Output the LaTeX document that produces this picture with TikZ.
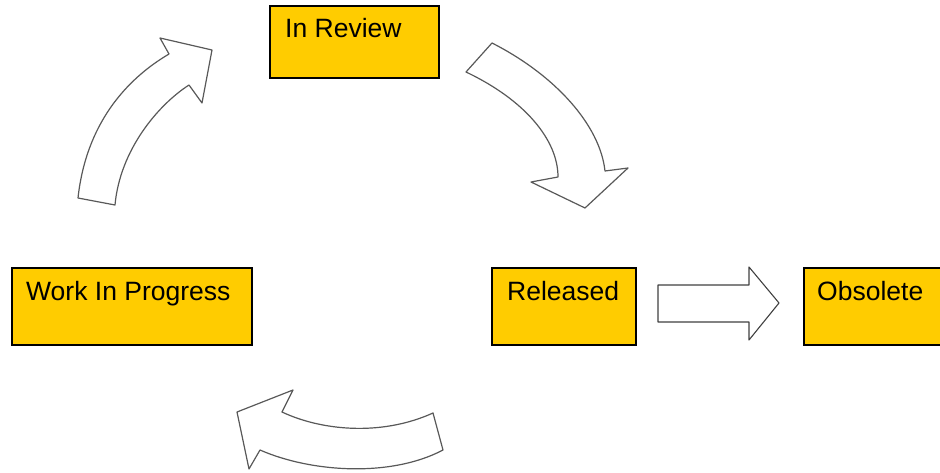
\documentclass[tikz,border=0pt]{standalone}
\usepackage{fontspec}
\setmainfont{Liberation Sans}
\usetikzlibrary{calc}
\definecolor{boxyellow}{HTML}{FFCC00}
\tikzset{
  statebox/.style={draw=black, line width=1.6pt, fill=boxyellow, inner sep=0pt, anchor=north west},
  statetext/.style={anchor=base west, inner sep=0pt, font=\fontsize{26.5}{30}\selectfont},
  blockarrow/.style={draw=black!75, line width=1.1pt, fill=white, line join=round},
  scanarrow/.style={draw=black!65, line width=1.2pt, fill=white, line join=round}
}
\begin{document}
\begin{tikzpicture}[x=1pt, y=-1pt]
\useasboundingbox (0,0) rectangle (940,473);
\begin{scope}
\clip (0,0) rectangle (940,473);
% state boxes
\node[statebox, minimum width=169pt, minimum height=72pt] (rev) at (269,5) {};
\node[statebox, minimum width=240pt, minimum height=77pt] (wip) at (11,267) {};
\node[statebox, minimum width=144pt, minimum height=77pt] (rel) at (491,267) {};
\node[statebox, minimum width=150pt, minimum height=77pt] (obs) at (803,267) {};
\end{scope}
\node[statetext] (revt) at ($(rev.north west)+(16,33)$) {In Review};
\node[statetext] (wipt) at ($(wip.north west)+(15,33)$) {Work In Progress};
\node[statetext] (relt) at ($(rel.north west)+(16,33)$) {Released};
\node[statetext] (obst) at ($(obs.north west)+(14,33)$) {Obsolete};
% straight block arrow Released -> Obsolete
\draw[blockarrow] (658,285) -- (749,285) -- (749,267) -- (779,303) -- (749,340) -- (749,322) -- (658,322) -- cycle;
% curved arrow WIP -> In Review
\draw[scanarrow] (78,198) .. controls (86,125) and (125,80) .. (169,54)
  -- (160,38) -- (212,50) -- (202,103) -- (189,85)
  .. controls (158,105) and (120,150) .. (115,205) -- cycle;
% curved arrow In Review -> Released
\draw[scanarrow] (492,43) .. controls (555,75) and (600,125) .. (605,171)
  -- (628,168) -- (585,208) -- (531,182) -- (558,177)
  .. controls (558,140) and (525,100) .. (466,72) -- cycle;
% curved arrow Released -> WIP (bottom)
\draw[scanarrow] (433,413) .. controls (380,437) and (320,430) .. (282,412)
  -- (293,390) -- (237,412) -- (249,469) -- (260,450)
  .. controls (310,472) and (390,478) .. (443,450) -- cycle;
\end{tikzpicture}
\end{document}
